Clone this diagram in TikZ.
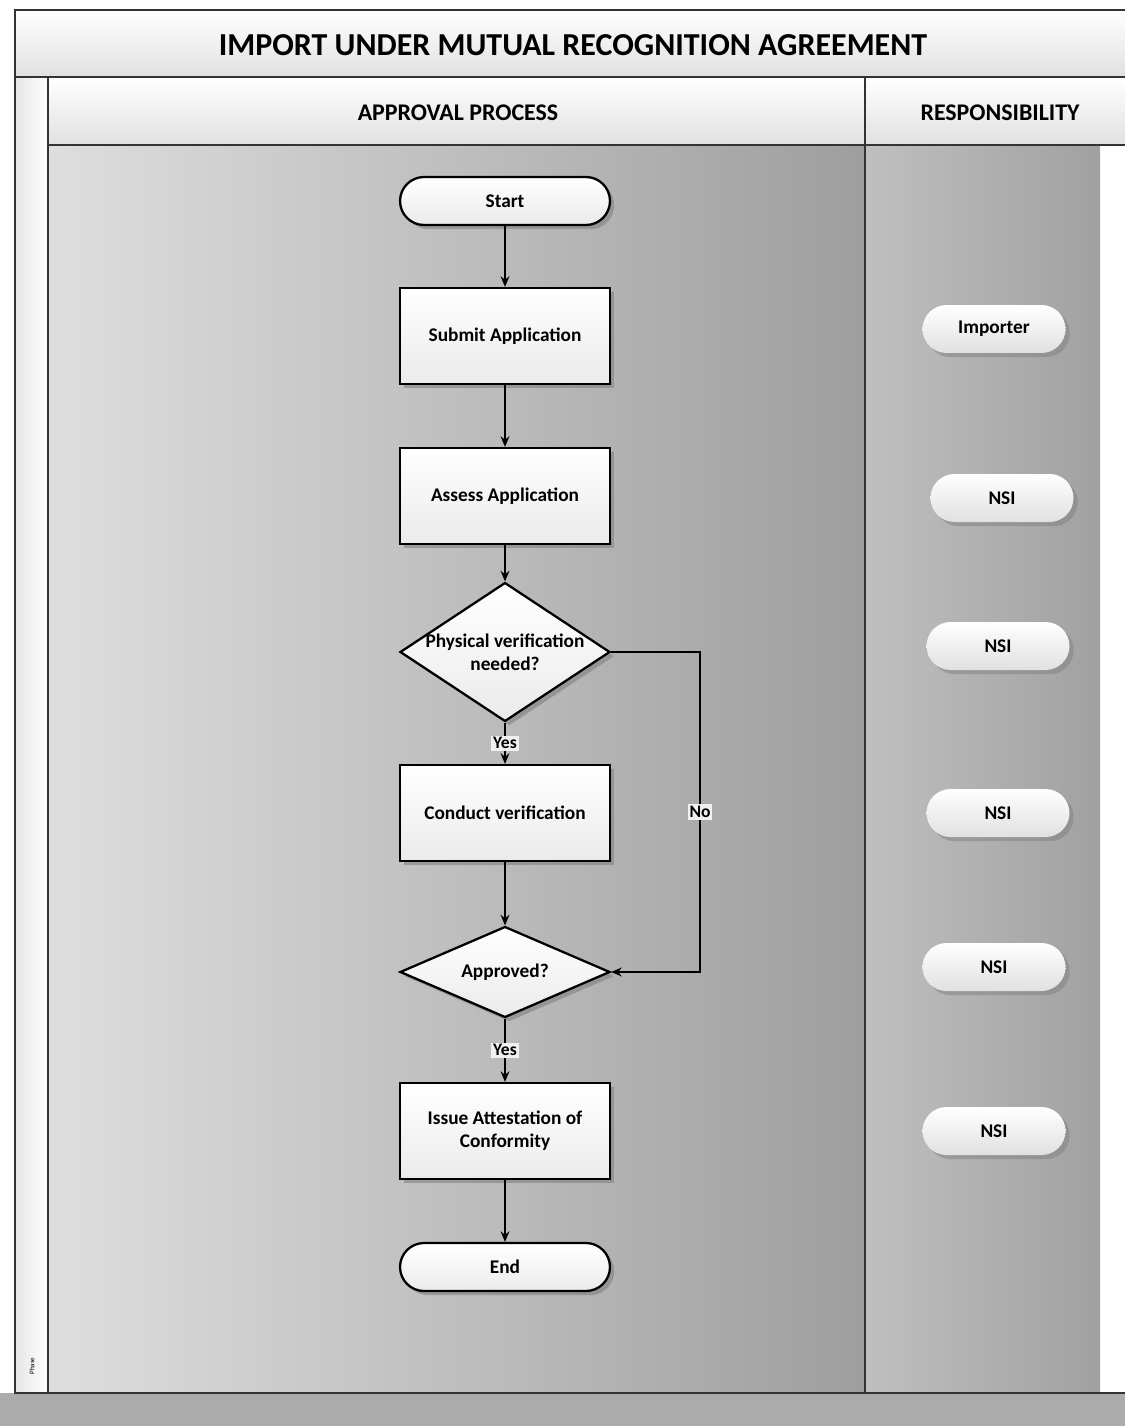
\documentclass[tikz,border=0pt]{standalone}
\usepackage{fontspec}
\setmainfont{Carlito}
\usepackage{tikz}
\usetikzlibrary{positioning}
\usetikzlibrary{shapes.geometric,shadows}
\usetikzlibrary{arrows.meta}
\colorlet{rulecol}{black!80}
\tikzstyle{frame}=[line width=1.2pt,rulecol]
\tikzset{>={Stealth[length=6pt,width=5pt]}}
\tikzset{
  process/.style={draw,line width=1.3pt,minimum width=4.2cm,minimum height=1.92cm,
    top color=white,bottom color=black!8,drop shadow={opacity=0.6},
    font=\bfseries\fontsize{11}{13}\selectfont,align=center},
  terminal/.style={process,rounded corners=0.48cm,minimum height=0.96cm},
  decision/.style={diamond,draw,line width=1.3pt,inner sep=0pt,minimum width=4.2cm,
    top color=white,bottom color=black!8,drop shadow={opacity=0.6},
    label={[font=\bfseries\fontsize{11}{13}\selectfont,align=center]center:#1}},
  role/.style={rounded corners=0.48cm,minimum width=2.86cm,minimum height=0.96cm,
    top color=white,bottom color=black!12,drop shadow={opacity=0.5},
    font=\bfseries\fontsize{11}{13}\selectfont},
  flow/.style={->,line width=1.1pt},
  tag/.style={fill=black!6,inner sep=1pt,font=\bfseries\fontsize{10}{11}\selectfont}
}

\begin{document}
\begin{tikzpicture}[x=0.02cm,y=-0.02cm]
    \useasboundingbox (0,0) rectangle (1125,1426);
    \fill[white] (0,0) rectangle (1125,1426);

    % 1. Bands and lanes
    \shade[top color=white,bottom color=black!12] (15,10) rectangle (1125,77);
    \shade[top color=white,bottom color=black!12] (48,77) rectangle (1125,145);
    \shade[left color=black!10,right color=white] (15,77) rectangle (48,1393);
    \shade[left color=black!13,right color=black!38] (48,145) rectangle (865,1393);
    \shade[left color=black!25,right color=black!37] (865,145) rectangle (1100,1393);
    \fill[black!33] (0,1393) rectangle (1125,1426);

    % 2. Frame lines
    \draw[frame] (1125,10) -- (15,10) -- (15,1393) -- (1125,1393);
    \draw[frame] (15,77) -- (1125,77);
    \draw[frame] (48,77) -- (48,1393);
    \draw[frame] (48,145) -- (1125,145);
    \draw[frame] (865,77) -- (865,1393);

    % 3. Headings
    \node (title) at (573,45) {\bfseries\fontsize{18.2}{21}\selectfont IMPORT UNDER MUTUAL RECOGNITION AGREEMENT};
    \node (proc) at (458,113) {\bfseries\fontsize{13.6}{16}\selectfont APPROVAL PROCESS};
    \node (resp) at (1000,113) {\bfseries\fontsize{13.6}{16}\selectfont RESPONSIBILITY};
    \node[rotate=90,font=\fontsize{4}{5}\selectfont] (phase) at (32,1366) {Phase};

    % 4. Process steps
    \node[terminal] (start) at (505,201) {Start};
    \node[process] (submit) at (505,336) {Submit Application};
    \node[process] (assess) at (505,496) {Assess Application};
    \node[decision={Physical verification\\needed?},minimum height=2.78cm] (phys) at (505,652) {};
    \node[process] (conduct) at (505,813) {Conduct verification};
    \node[decision={Approved?},minimum height=1.82cm] (appr) at (505,972) {};
    \node[process] (issue) at (505,1131) {Issue Attestation of\\Conformity};
    \node[terminal] (end) at (505,1267) {End};

    % 5. Connectors
    \draw[flow] (start) -- (submit);
    \draw[flow] (submit) -- (assess);
    \draw[flow] (assess) -- (phys);
    \draw[flow] (phys) -- node[tag] {Yes} (conduct);
    \draw[flow] (conduct) -- (appr);
    \draw[flow] (appr) -- node[tag] {Yes} (issue);
    \draw[flow] (issue) -- (end);
    \draw[flow] (phys.east) -- ++(89,0) |- node[tag,pos=0.25] {No} (appr.east);

    % 6. Responsibility
    \node[role] (importer) at (994,329) {Importer};
    \node[role] (nsiA) at (1002,498) {NSI};
    \node[role] (nsiB) at (998,646) {NSI};
    \node[role] (nsiC) at (998,813) {NSI};
    \node[role] (nsiD) at (994,967) {NSI};
    \node[role] (nsiE) at (994,1131) {NSI};
\end{tikzpicture}
\end{document}
